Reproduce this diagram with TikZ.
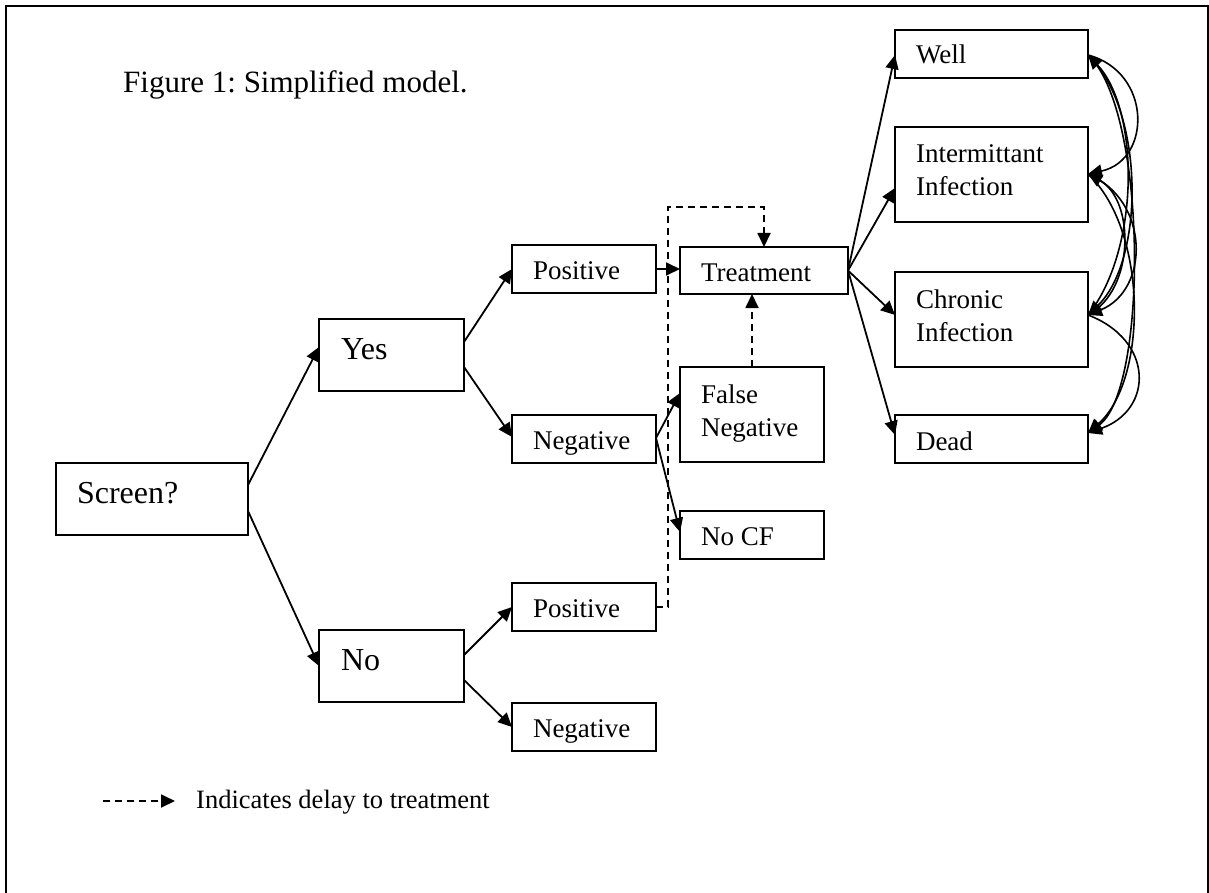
\documentclass[tikz,border=0pt]{standalone}
\usepackage{fontspec}
\setmainfont{Liberation Serif}
\usetikzlibrary{arrows.meta}
\frenchspacing
\begin{document}
\begin{tikzpicture}[x=1pt,y=-1pt,
  box/.style={draw, line width=2pt, inner sep=0pt, outer sep=0pt},
  txt/.style={inner sep=0pt, outer sep=0pt, font=\fontsize{27}{33}\selectfont, align=left},
  bigtxt/.style={inner sep=0pt, outer sep=0pt, font=\fontsize{32}{38}\selectfont},
  conn/.style={line width=1.8pt, -{Triangle[length=14pt,width=13pt]}},
  delay/.style={line width=1.8pt, dash pattern=on 7pt off 5pt, -{Triangle[length=14pt,width=13pt]}},
  trans/.style={line width=1.6pt, -{Triangle[length=14pt,width=13pt]}}]
\useasboundingbox (0,0) rectangle (1209,893);
% frame
\draw[line width=2pt] (6,893) -- (6,6) -- (1208,6) -- (1208,893);
% title
\node[inner sep=0pt, anchor=base west, font=\fontsize{31}{37}\selectfont] (title) at (123,93) {Figure 1: Simplified model.};
% boxes
\node[box, minimum width=192pt, minimum height=72pt] (scr) at (152,499) {};
\node[box, minimum width=145pt, minimum height=72pt] (yes) at (391.5,355) {};
\node[box, minimum width=145pt, minimum height=72pt] (no) at (391.5,666) {};
\node[box, minimum width=144pt, minimum height=48pt] (posY) at (584,269) {};
\node[box, minimum width=144pt, minimum height=48pt] (negY) at (584,439) {};
\node[box, minimum width=144pt, minimum height=48pt] (posN) at (584,607) {};
\node[box, minimum width=144pt, minimum height=48pt] (negN) at (584,727) {};
\node[box, minimum width=168pt, minimum height=47pt] (treat) at (764,270.5) {};
\node[box, minimum width=144pt, minimum height=95pt] (fneg) at (752,414.5) {};
\node[box, minimum width=144pt, minimum height=48pt] (nocf) at (752,535) {};
\node[box, minimum width=193pt, minimum height=48pt] (well) at (991.5,54) {};
\node[box, minimum width=193pt, minimum height=95pt] (inter) at (991.5,174.5) {};
\node[box, minimum width=193pt, minimum height=95pt] (chron) at (991.5,319.5) {};
\node[box, minimum width=193pt, minimum height=48pt] (dead) at (991.5,439) {};
% texts
\node[bigtxt, anchor=base west] (scrT) at ([xshift=21pt,yshift=-4pt]scr.west) {Screen?};
\node[bigtxt, anchor=base west] (yesT) at ([xshift=22pt,yshift=-4pt]yes.west) {Yes};
\node[bigtxt, anchor=base west] (noT) at ([xshift=22pt,yshift=-4pt]no.west) {No};
\node[txt, anchor=base west] (posYT) at ([xshift=21pt,yshift=-10pt]posY.west) {Positive};
\node[txt, anchor=base west] (negYT) at ([xshift=21pt,yshift=-10pt]negY.west) {Negative};
\node[txt, anchor=base west] (posNT) at ([xshift=21pt,yshift=-10pt]posN.west) {Positive};
\node[txt, anchor=base west] (negNT) at ([xshift=21pt,yshift=-10pt]negN.west) {Negative};
\node[txt, anchor=base west] (treatT) at ([xshift=21pt,yshift=-11pt]treat.west) {Treatment};
\node[txt, anchor=west] (fnegT) at ([xshift=21pt,yshift=1.2pt]fneg.west) {False\\Negative};
\node[txt, anchor=base west] (nocfT) at ([xshift=21pt,yshift=-10pt]nocf.west) {No CF};
\node[txt, anchor=base west] (wellT) at ([xshift=21pt,yshift=-10pt]well.west) {Well};
\node[txt, anchor=west] (interT) at ([xshift=21pt,yshift=3.9pt]inter.west) {Intermittant\\Infection};
\node[txt, anchor=west] (chronT) at ([xshift=21pt,yshift=4.2pt]chron.west) {Chronic\\Infection};
\node[txt, anchor=base west] (deadT) at ([xshift=21pt,yshift=-11pt]dead.west) {Dead};
% tree connectors
\draw[conn] ([yshift=14pt]scr.east) -- ([yshift=8pt]yes.west);
\draw[conn] ([yshift=-12pt]scr.east) -- (no.west);
\draw[conn] ([yshift=13pt]yes.east) -- (posY.west);
\draw[conn] ([yshift=-12pt]yes.east) -- ([yshift=2pt]negY.west);
\draw[conn] ([yshift=11pt]no.east) -- (posN.west);
\draw[conn] ([yshift=-14pt]no.east) -- (negN.west);
\draw[conn] (posY.east) -- (posY.east -| treat.west);
\draw[conn] ([yshift=1pt]negY.east) -- ([yshift=21.5pt]fneg.west);
\draw[conn] ([yshift=1pt]negY.east) -- ([yshift=3pt]nocf.west);
% delays
\draw[delay] (posN.east) -- ++(12,0) |- ([yshift=40pt]treat.north) -- (treat.north);
\draw[delay] (fneg.north) -- (fneg.north |- treat.south);
% treatment outcomes
\draw[conn] (treat.east) -- ([yshift=-1pt]well.west);
\draw[conn] (treat.east) -- ([yshift=-13.5pt]inter.west);
\draw[conn] (treat.east) -- ([yshift=4.5pt]chron.west);
\draw[conn] (treat.east) -- ([yshift=4pt]dead.west);
% transitions
\coordinate (wE) at ([yshift=-1pt]well.east);
\coordinate (iE) at ([yshift=0.5pt]inter.east);
\coordinate (cE) at ([yshift=4.5pt]chron.east);
\coordinate (dE) at ([yshift=6pt]dead.east);
\draw[trans] (wE) .. controls (1152,72) and (1152,160) .. (iE);
\draw[trans] (wE) .. controls (1148,110) and (1148,390) .. (dE);
\draw[trans] (wE) .. controls (1145,110) and (1145,260) .. (cE);
\draw[trans] (cE) .. controls (1140,250) and (1140,110) .. (wE);
\draw[trans] (iE) .. controls (1150,200) and (1150,290) .. (cE);
\draw[trans] (cE) .. controls (1135,290) and (1135,200) .. (iE);
\draw[trans] (iE) .. controls (1148,230) and (1148,380) .. (dE);
\draw[trans] (cE) .. controls (1154,340) and (1154,410) .. (dE);
% legend
\coordinate (legA) at (103,801);
\coordinate (legB) at (175,801);
\draw[delay] (legA) -- (legB);
\node[inner sep=0pt, anchor=base west, font=\fontsize{26.5}{32}\selectfont] (legT) at (196,808) {Indicates delay to treatment};
\end{tikzpicture}
\end{document}
